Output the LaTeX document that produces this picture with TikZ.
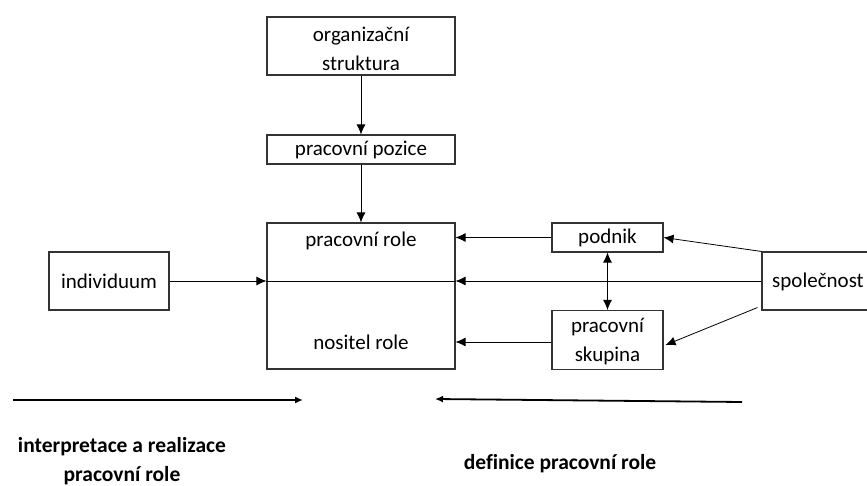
\documentclass[tikz,border=0pt]{standalone}
\usepackage{fontspec}
\setmainfont[Ligatures=NoCommon]{Carlito}
\usetikzlibrary{arrows.meta}
\begin{document}
\begin{tikzpicture}[x=1pt,y=-1pt,
  box/.style={draw=black!80,line width=1.1pt,inner sep=0pt,font=\fontsize{21}{29}\selectfont,align=center},
  lbl/.style={inner sep=0pt,font=\fontsize{21}{29}\selectfont,align=center},
  con/.style={line width=0.8pt,-{Latex[length=10pt,width=9pt]}},
  big/.style={line width=1.8pt,-{Latex[length=8pt,width=7pt]}},
  captext/.style={inner sep=0pt,font=\fontsize{21.5}{29}\selectfont\bfseries,align=center}]
\useasboundingbox (0,0) rectangle (867,486);
\node[box,minimum width=188pt,minimum height=58pt] (org) at (361,46) {};
\node[lbl] (orgt) at (361,49) {organizační\\struktura};
\node[box,minimum width=188pt,minimum height=29pt] (poz) at (361,149.5) {pracovní pozice};
\node[box,minimum width=188pt,minimum height=146pt] (role) at (361,296) {};
\node[lbl] (rt) at (361,241) {pracovní role};
\node[lbl] (nt) at (361,342) {nositel role};
\node[box,minimum width=111pt,minimum height=29pt] (pod) at (607.5,237.5) {podnik};
\node[box,minimum width=111pt,minimum height=59pt] (sk) at (607.5,340) {};
\node[lbl] (skt) at (607.5,342) {pracovní\\skupina};
\node[box,minimum width=120pt,minimum height=58pt] (ind) at (109,281) {individuum};
\node[box,minimum width=130pt,minimum height=58pt] (sp) at (827,281) {};
\node[lbl,anchor=west] (spt) at (772,282) {společnost};
\coordinate (rw) at (role.west |- ind.east);
\coordinate (re) at (role.east |- ind.east);
\draw[line width=0.8pt] (rw) -- (re);
\draw[con] (org) -- (poz);
\draw[con] (poz.south) -- (role.north);
\draw[con] (ind.east) -- (rw);
\draw[con] (sp.west) -- (re);
\draw[con] (pod.west) -- (pod.west -| role.east) ;
\draw[con] (sk.west |- nt) -- (role.east |- nt);
\draw[line width=0.8pt,{Latex[length=10pt,width=9pt]}-{Latex[length=10pt,width=9pt]}] (pod.south) -- (sk.north);
\draw[con] (sp.north west) -- (pod.east);
\draw[con] ([xshift=-4pt,yshift=3pt]sp.south west) -- ([xshift=2pt,yshift=-5pt]sk.east);
\coordinate (a1) at (13,400);
\coordinate (a2) at (303,400);
\coordinate (b1) at (742,402);
\coordinate (b2) at (435,399);
\draw[big] (a1) -- (a2);
\draw[big] (b1) -- (b2);
\node[captext] (c1) at (122,461) {interpretace a realizace\\pracovní role};
\node[captext] (c2) at (560,464) {definice pracovní role};
\end{tikzpicture}
\end{document}
